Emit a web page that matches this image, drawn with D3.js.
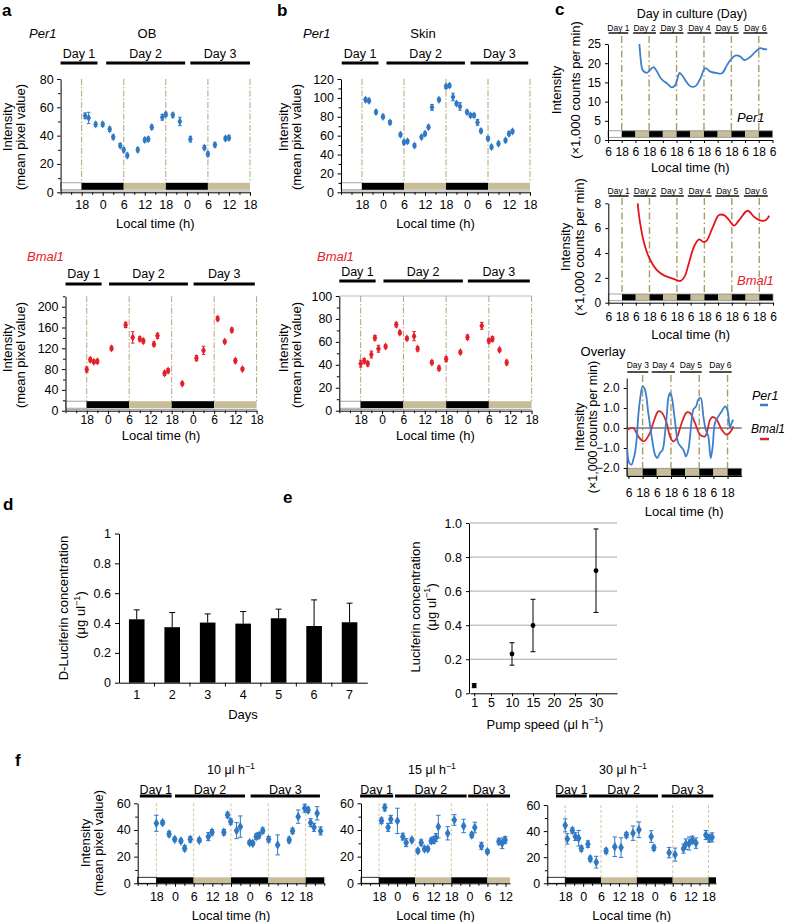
<!DOCTYPE html>
<html><head><meta charset="utf-8">
<script src="https://cdn.jsdelivr.net/npm/d3@7/dist/d3.min.js"></script>
<style>html,body{margin:0;padding:0;background:#fff}svg{display:block}</style>
</head><body>
<svg id="fig" width="786" height="922"></svg>
<script>
// ================= DATA =================
const hourTicks = [18,24,30,36,42,48,54,60,66];
const dashHours = [18,30,42,54,66];
const ldEdges = [12,18,30,42,54,66,78];
const ldPhase = ["light","dark","subj","dark","subj","dark"];
const dayNames3 = ["Day 1","Day 2","Day 3"];

// a: olfactory bulb
const aPer1T = [19,20,22,24,26,27,29,30,31,34,36,37,38,41,42,44,46,49,53,54,56,59,60];
const aPer1V = [54,52.5,48,48,44.5,39,33,30,26,30,37,37.5,46,53,55,54.5,50,37.5,31.5,27,33.5,38,38.5];
const aPer1E = [2,4,1.5,1.5,1.5,1.5,1.5,1.5,1.5,1.5,1.5,1.5,1.5,2,1.5,1.5,3,2,1.5,1.5,1.5,1.5,1.5];
const aPer1Days = [[12,22.5],[25,47.5],[49,66]];

const aBmal1T = [18,19,20,21,25,29,31,33,34,37,38,40,41,45,49,51,55,57,59,60,62];
const aBmal1V = [79,98,94,95,120,165,141,138,134,128,144,72,77,52,101,116,177,133,155,96,80];
const aBmal1E = [5,4,3,4,4,5,11,4,4,4,5,4,4,3,5,8,4,3,4,4,3];
const aBmal1Days = [[12,22.2],[24.3,46.6],[48.2,65.5]];

// b: skin
const bPer1T = [19,20,22,24,26,29,30,31,33,35,36,37,38,40,42,43,44,45,46,48,49,50,51,52,54,55,57,59,60,61];
const bPer1V = [98,97,85,80,74,61,53,54,49.5,58.5,62,69,90,98,112,113,101,94,91,85,81.5,81.5,74,65,57,48,51.5,55,62,64.5];
const bPer1E = [2,2,2,2,2,2,2,2,2,2,2,2,3,2,2,2,4,2,4,2,2,2,3,2,2,2,2,2,2,2];
const bPer1Days = [[12.2,22.7],[25,47.4],[49,65.5]];

const bBmal1T = [18,19,20,21,22,23,25,28,29,31,33,34,38,40,42,46,48,52,54,55,57,59];
const bBmal1V = [41,43.5,41,49,63.5,54,56,75,68,63,65,54,42,37,45,51,64,74,61,62.5,53,42];
const bBmal1E = [3,2,2,3,2,3,1.5,2,1.5,1.5,4,2,1.5,2,2,1.5,2,3,2,2,1.5,2];
const bBmal1Days = [[12,22.2],[24.4,46.7],[48.1,65.5]];

// c: in-culture recordings (hours from 06:00 of day 1)
const cTicks = [0,12,24,36,48,60,72,84,96,108,120,132,144];
const cEdges = [0,12,24,36,48,60,72,84,96,108,120,132,144];
const cPhase = ["light","dark","subj","dark","subj","dark","subj","dark","subj","dark","subj","dark"];
const cDayNames = ["Day 1","Day 2","Day 3","Day 4","Day 5","Day 6"];
const cDayRanges = [[0.5,17.7],[22,42],[45.3,66],[69.5,90.3],[93.5,114.5],[118.5,139.5]];
const cPer1T = [27.5,28.3,29.2,30.4,34,37,39.8,43,45.7,48.5,51.5,55.9,58.8,60.8,62.6,65,67.6,72,76.4,80.8,85.2,89.6,95.4,99.8,104.2,107.1,111.5,115.9,119.4,124.7,129.1,133.5,136,139.3];
const cPer1V = [25,22,19.5,18.2,17.5,18.3,19,17.8,16.3,15.4,14.8,13.7,14.3,16,17.5,16.8,15.6,14,14,16,18.7,17.8,17.4,17.4,19.5,20.8,22,21.7,20.8,21.7,23,23.9,23.7,23.6];
const cBmal1T = [25.7,26.6,28.1,31,34,37.5,42.7,48.6,54.4,60.3,63.2,66.7,70.5,74.9,79.3,83.1,86,91,96.8,101.2,105.6,110,114.4,121.8,127.6,133.5,137.8,140.7];
const cBmal1V = [8,7.2,6.25,4.9,4,3.3,2.6,2.2,2.0,1.8,1.75,2.1,3.2,4.5,5.1,4.9,5,6,7.05,7.05,6.65,6.2,6.65,7.4,6.9,6.6,6.65,7];

// c overlay (hours from 06:00 of day 3)
const oTicks = [0,12,24,36,48,60,72,84];
const oEdges = [-1.5,12,24,36,48,60,72,84,96];
const oPhase = ["subj","dark","subj","dark","subj","dark","subj","dark"];
const oDayNames = ["Day 3","Day 4","Day 5","Day 6"];
const oDayRanges = [[-1,16.8],[19.7,39.4],[43.7,62.1],[68.5,87.5]];
const oPer1T = [-1,0.7,2.7,4.1,5.5,6.9,8.3,9.8,12,14,16.8,18.8,20.5,22.5,24.4,26.7,29,31,32.4,33.8,35.2,36.6,38.6,40.3,42.2,44.3,46.5,48.8,50.8,52.2,53.6,55,57.3,59.2,61.2,63.5,65.5,67.7,69.7,71.4,73.3,76.2,79,81.9,83.8,86.1,87.5,88.9];
const oPer1V = [-1.08,-1.75,-1.83,-1.58,-1.25,-0.58,0.58,1.42,2.08,1.92,0.75,-0.08,-0.75,-1.33,-1.5,-1.25,-1.08,-0.25,0.58,1.5,1.75,1.58,0.75,-0.08,-0.75,-0.92,-1.08,-1.42,-1.08,-0.42,0.42,0.92,1.08,1.42,1.5,0.58,-0.08,-0.42,-1.5,-0.92,0.25,0.58,0.83,1.08,0.92,0,0.25,0.42];
const oBmal1T = [-1,4.1,8.3,13.1,18.2,21,25.3,28.1,32.4,35.2,38,40.9,45.1,49.4,52.2,56.4,60.7,64.9,69.2,71.4,74.8,79,83.3,86.7,88.9];
const oBmal1V = [-0.08,0,-0.42,-0.67,-0.25,0.25,0.83,0.78,0.25,-0.42,-0.67,-0.5,0.25,0.78,0.75,0.25,-0.33,-0.42,0.42,0.55,0.42,-0.08,-0.33,-0.17,0.08];

// d: D-luciferin by day
const dDays = ["1","2","3","4","5","6","7"];
const dValues = [0.425,0.372,0.403,0.396,0.432,0.38,0.405];
const dErrors = [0.063,0.098,0.058,0.081,0.061,0.175,0.128];
const dTicks = [0,0.2,0.4,0.6,0.8,1.0];

// e: luciferin vs pump speed
const eSpeed = [1,10,15,30];
const eValues = [0.045,0.231,0.398,0.72];
const eErrors = [0.012,0.066,0.154,0.245];
const eXTicks = [1,5,10,15,20,25,30];
const eYTicks = [0,0.2,0.4,0.6,0.8,1.0];

// f: pump speeds
const f10T = [18,20,22.1,23.9,25.9,27.1,28.9,31.8,34.7,35.9,39.7,40.9,41.9,43.8,45,48,49,50.1,51,52.2,54.1,57,60.7,61.8,63.6,65.7,66.8,67.6,68.7,69.7,70.8];
const f10V = [45,45.5,37,33,31.8,26.3,33,32.3,35,38.3,38.3,51.3,46.3,39.5,42.5,30.5,30,35,36,39.5,33,28.8,32.5,39.3,50,56.3,55,45.5,42,52.5,39.3];
const f10E = [6,1.5,2,1.5,1.5,2,2,1.5,3,2,2,2,2,6,8,1.5,1.5,2,2,2,2,7.5,2,2,5,3,2,3,3,5,3];
const f10Days = [[12.7,22.9],[24,46.5],[48.3,70.6]];
const f15T = [18.8,19.9,21,21.9,24.1,25.9,27,28.9,30.9,32,33.1,34.2,35.3,36.2,36.9,37.7,40.8,43,46.1,48.8,49.8,52,54,57.8,58.9,59.9];
const f15V = [47,56.8,42,48,46.8,35,30.5,32.5,24.3,30.5,25.8,25.8,31.8,32.5,34.3,42.5,37.5,47.5,43,36.3,41.8,28,23.8,31.3,30,32.5];
const f15E = [2,2.5,3,3,9.5,2.5,3,1.5,1.5,2,1.5,1.5,2,2.5,3,8.5,5,4,5,2,4,2.5,1.5,2,4,2.5];
const f15Days = [[11.7,22.7],[23.3,47.1],[47.6,61.5]];
const f30T = [18,18.7,20.4,21.4,22.5,23.4,25.6,26.4,28.4,31.7,34.6,36.7,38.5,40.7,42.7,46.8,47.7,52.8,54.8,57.6,58.4,59.5,60.6,61.8,65.1,66.2,67.2];
const f30V = [44.4,34,40.5,35.8,34.5,26.6,30,18.8,16.2,24.8,28,27.4,37,38.4,41,35.8,27.2,23.5,22,26.6,30,30.5,33.2,30.8,37,34.5,35.2];
const f30E = [5,4,2,3,6,2,2.5,2,4.5,2,7.5,7.5,2,5.5,6,4.5,2,4,5,3.5,4,5,3,4,3.5,3,3.5];
const f30Days = [[14.9,25.2],[26,49.1],[50.3,67.6]];

// ================= DRAWING =================
const svg = d3.select("#fig");
const FF = '"Liberation Sans", Arial, Helvetica, sans-serif';
svg.attr("font-family", FF);
const BLUE = "#2f78c4", RED = "#e3202a", TAN = "#c7be99";
const ldColor = {light:"#ffffff", dark:"#000000", subj:TAN};

function txt(x, y, s, o = {}) {
  const fs = o.size || 12.5;
  const t = svg.append("text").attr("x", x).attr("y", y).attr("font-size", fs)
    .attr("text-anchor", o.anchor || "middle").attr("fill", o.fill || "#000");
  if (o.italic) t.attr("font-style", "italic");
  if (o.bold) t.attr("font-weight", "bold");
  if (o.rot) t.attr("transform", `rotate(-90,${x},${y})`);
  if (o.sup) {
    t.append("tspan").text(s);
    t.append("tspan").attr("dy", -fs * 0.4).attr("font-size", fs * 0.7).text(o.sup);
    t.append("tspan").attr("dy", fs * 0.4).text(o.after || "");
  } else t.text(s);
  return t;
}
function styleAxis(g, fs) {
  g.attr("font-family", FF).attr("font-size", fs);
  g.selectAll(".domain").attr("stroke", "#000");
  g.selectAll(".tick line").attr("stroke", "#000");
  g.selectAll(".tick text").attr("fill", "#000");
}

function tsPanel(o) {
  const g = svg.append("g");
  const x = d3.scaleLinear().domain(o.tDom).range(o.xr);
  const y = d3.scaleLinear().domain(o.yDom).range(o.yr);
  const yb = o.yr[0], yt = o.yr[1];
  const inDom = h => h >= o.tDom[0] - 1e-6 && h <= o.tDom[1] + 1e-6;
  const barTop = yb - o.barOff - o.barH;
  if (o.topGrid) g.append("line").attr("x1", o.xr[0]).attr("x2", o.xr[1]).attr("y1", yt).attr("y2", yt).attr("stroke", "#bdbdbd");
  dashHours.filter(inDom).forEach(h => {
    g.append("line").attr("x1", x(h)).attr("x2", x(h)).attr("y1", yt).attr("y2", barTop)
      .attr("stroke", o.dashColor).attr("stroke-width", 1).attr("stroke-dasharray", o.dashArray);
  });
  ldPhase.forEach((p, i) => {
    const a = Math.max(ldEdges[i], o.tDom[0]), b = Math.min(ldEdges[i + 1], o.tDom[1]);
    if (b <= a) return;
    g.append("rect").attr("x", x(a)).attr("y", barTop).attr("width", x(b) - x(a)).attr("height", o.barH)
      .attr("fill", ldColor[p]).attr("stroke", p === "light" ? o.lightStroke : "none").attr("stroke-width", 0.8);
  });
  if (o.underLine) g.append("line").attr("x1", o.xr[0]).attr("x2", o.xr[1]).attr("y1", yb - 1.3).attr("y2", yb - 1.3).attr("stroke", "#a0a0a0").attr("stroke-width", 1);
  const xMaj = hourTicks.filter(inDom);
  const xMin = d3.range(o.tDom[0], o.tDom[1] + 0.01, 3).filter(h => !xMaj.includes(h));
  g.append("g").attr("transform", `translate(0,${yb})`)
    .call(d3.axisBottom(x).tickValues(xMin).tickFormat("").tickSize(2.5).tickSizeOuter(0))
    .call(a => a.select(".domain").remove()).call(styleAxis, o.fs);
  g.append("g").attr("transform", `translate(0,${yb})`)
    .call(d3.axisBottom(x).tickValues(xMaj).tickFormat(h => String(h % 24)).tickSize(3.5).tickPadding(o.xPad).tickSizeOuter(0))
    .call(styleAxis, o.xfs || o.fs);
  const yMin = d3.range(o.yDom[0], o.yDom[1] + 0.01, o.yMinor).filter(v => !o.yTicks.includes(v));
  g.append("g").attr("transform", `translate(${o.xr[0]},0)`)
    .call(d3.axisLeft(y).tickValues(yMin).tickFormat("").tickSize(2.5).tickSizeOuter(0))
    .call(a => a.select(".domain").remove()).call(styleAxis, o.fs);
  g.append("g").attr("transform", `translate(${o.xr[0]},0)`)
    .call(d3.axisLeft(y).tickValues(o.yTicks).tickSize(3.5).tickPadding(3.5).tickSizeOuter(0))
    .call(styleAxis, o.fs);
  // error bars + points
  const idx = d3.range(o.t.length);
  const cap = o.cap;
  idx.forEach(i => {
    const xi = x(o.t[i]), lo = y(o.v[i] - o.e[i]), hi = y(o.v[i] + o.e[i]);
    g.append("line").attr("x1", xi).attr("x2", xi).attr("y1", lo).attr("y2", hi).attr("stroke", o.color).attr("stroke-width", 1);
    [lo, hi].forEach(yy => g.append("line").attr("x1", xi - cap).attr("x2", xi + cap).attr("y1", yy).attr("y2", yy).attr("stroke", o.color).attr("stroke-width", 1));
    g.append("path").attr("d", d3.symbol(d3.symbolDiamond, o.symSize)()).attr("transform", `translate(${xi},${y(o.v[i])})`).attr("fill", o.color);
  });
  // day bars
  o.days.forEach((d, i) => {
    g.append("line").attr("x1", x(d[0])).attr("x2", x(d[1])).attr("y1", o.dayBarY).attr("y2", o.dayBarY).attr("stroke", "#000").attr("stroke-width", 3);
    txt(x((d[0] + d[1]) / 2), o.dayLabelY, dayNames3[i], {size: o.fs});
  });
  txt((o.xr[0] + o.xr[1]) / 2, o.xTitleY, "Local time (h)", {size: 13});
}

// ---------- panel a ----------
txt(2, 16, "a", {size: 17, bold: true, anchor: "start"});
txt(29, 38, "Per1", {size: 13, italic: true, anchor: "start"});
txt(147, 38, "OB", {size: 13});
txt(11.5, 127, "Intensity", {size: 13, rot: true});
txt(25, 137, "(mean pixel value)", {size: 13, rot: true});
const abStyle = {barH: 7, barOff: 2.5, underLine: true, lightStroke: "#909090", dashColor: "#b0a37a", dashArray: "6,2,1.5,2", fs: 12.5, cap: 1.8, symSize: 20};
tsPanel(Object.assign({}, abStyle, {xr: [60.6, 250], tDom: [12, 66], yr: [192.3, 79], yDom: [0, 80], yTicks: [0,20,40,60,80], yMinor: 10,
  t: aPer1T, v: aPer1V, e: aPer1E, color: BLUE, days: aPer1Days, dayBarY: 63, dayLabelY: 57.5, xPad: 4, xTitleY: 228}));
txt(27, 261, "Bmal1", {size: 13, italic: true, anchor: "start", fill: RED});
txt(11.5, 348, "Intensity", {size: 13, rot: true});
txt(25, 355, "(mean pixel value)", {size: 13, rot: true});
tsPanel(Object.assign({}, abStyle, {xr: [65.5, 256.6], tDom: [12, 66], yr: [410.7, 296.3], yDom: [0, 220], yTicks: [0,40,80,120,160,200], yMinor: 20,
  t: aBmal1T, v: aBmal1V, e: aBmal1E, color: RED, days: aBmal1Days, dayBarY: 284, dayLabelY: 277.5, xPad: 1.5, xfs: 12, xTitleY: 440}));

// ---------- panel b ----------
txt(277, 16, "b", {size: 17, bold: true, anchor: "start"});
txt(303, 38, "Per1", {size: 13, italic: true, anchor: "start"});
txt(423, 38, "Skin", {size: 13});
txt(287.5, 127, "Intensity", {size: 13, rot: true});
txt(301, 137, "(mean pixel value)", {size: 13, rot: true});
tsPanel(Object.assign({}, abStyle, {xr: [341, 530], tDom: [12, 66], yr: [192.3, 79], yDom: [0, 120], yTicks: [0,20,40,60,80,100,120], yMinor: 10,
  t: bPer1T, v: bPer1V, e: bPer1E, color: BLUE, days: bPer1Days, dayBarY: 63, dayLabelY: 57.5, xPad: 4, xTitleY: 228}));
txt(317, 261, "Bmal1", {size: 13, italic: true, anchor: "start", fill: RED});
txt(287.5, 348, "Intensity", {size: 13, rot: true});
txt(301, 355, "(mean pixel value)", {size: 13, rot: true});
tsPanel(Object.assign({}, abStyle, {xr: [339.3, 531.6], tDom: [12, 66], yr: [410.7, 296], yDom: [0, 100], yTicks: [0,20,40,60,80,100], yMinor: 10, topGrid: true,
  t: bBmal1T, v: bBmal1V, e: bBmal1E, color: RED, days: bBmal1Days, dayBarY: 281, dayLabelY: 275.5, xPad: 1.5, xfs: 12, xTitleY: 440}));

// ---------- panel c ----------
function cPanel(o) {
  const g = svg.append("g");
  const x = d3.scaleLinear().domain(o.tDom).range(o.xr);
  const y = d3.scaleLinear().domain(o.yDom).range(o.yr);
  o.ticks.filter(h => ((h + 6) % 24) === 18).forEach(h => {
    g.append("line").attr("x1", x(h)).attr("x2", x(h)).attr("y1", o.dashTop).attr("y2", o.barTop)
      .attr("stroke", "#a89c62").attr("stroke-width", 1.4).attr("stroke-dasharray", "7,3,1.5,3");
  });
  o.phase.forEach((p, i) => {
    const a = Math.max(o.edges[i], o.tDom[0]), b = Math.min(o.edges[i + 1], o.tDom[1]);
    if (b <= a) return;
    g.append("rect").attr("x", x(a)).attr("y", o.barTop).attr("width", x(b) - x(a)).attr("height", o.barH).attr("fill", ldColor[p]);
  });
  g.append("rect").attr("x", o.xr[0]).attr("y", o.barTop).attr("width", o.xr[1] - o.xr[0]).attr("height", o.barH)
    .attr("fill", "none").attr("stroke", "#8a8a8a").attr("stroke-width", 0.8);
  if (o.zeroLine) g.append("line").attr("x1", o.xr[0]).attr("x2", o.xr[1]).attr("y1", y(0)).attr("y2", y(0)).attr("stroke", "#333").attr("stroke-width", 1);
  g.append("g").attr("transform", `translate(0,${o.xAxisY})`)
    .call(d3.axisBottom(x).tickValues(o.ticks).tickFormat(h => String((h + 6) % 24)).tickSize(3).tickPadding(o.xPad).tickSizeOuter(0))
    .call(styleAxis, 12);
  g.append("g").attr("transform", `translate(${o.xr[0]},0)`)
    .call(d3.axisLeft(y).tickValues(o.yTicks).tickSize(3).tickPadding(4).tickSizeOuter(0))
    .call(styleAxis, 12);
  o.dayRanges.forEach((d, i) => {
    g.append("line").attr("x1", x(d[0])).attr("x2", x(d[1])).attr("y1", o.dayBarY).attr("y2", o.dayBarY).attr("stroke", "#222").attr("stroke-width", 1.6);
    txt(x((d[0] + d[1]) / 2), o.dayLabelY, o.dayNames[i], {size: 8.5});
  });
  o.curves.forEach(c => {
    const line = d3.line().x(i => x(c.t[i])).y(i => y(c.v[i])).curve(d3.curveCatmullRom.alpha(0.5));
    g.append("path").attr("d", line(d3.range(c.t.length))).attr("fill", "none").attr("stroke", c.color).attr("stroke-width", 1.8);
  });
  txt((o.xr[0] + o.xr[1]) / 2, o.xTitleY, "Local time (h)", {size: 13});
}

txt(555, 15, "c", {size: 17, bold: true, anchor: "start"});
txt(692, 17.5, "Day in culture (Day)", {size: 12.5});
txt(561, 90, "Intensity", {size: 13, rot: true});
txt(579.5, 90, "(×1,000  counts per min)", {size: 13, rot: true});
cPanel({xr: [608, 772.5], tDom: [0, 144], yr: [140, 44], yDom: [0, 25], yTicks: [0,5,10,15,20,25], ticks: cTicks,
  edges: cEdges, phase: cPhase, barTop: 130.8, barH: 6.5, dashTop: 36, xAxisY: 140, xPad: 4,
  dayRanges: cDayRanges, dayNames: cDayNames, dayBarY: 33, dayLabelY: 31,
  curves: [{t: cPer1T, v: cPer1V, color: "#3d7fca"}], xTitleY: 171.5});
txt(737, 121.5, "Per1", {size: 13, italic: true, anchor: "start"});

txt(570, 247, "Intensity", {size: 13, rot: true});
txt(583.5, 247, "(×1,000  counts per min)", {size: 13, rot: true});
cPanel({xr: [608.3, 773], tDom: [0, 144], yr: [302.7, 203.3], yDom: [0, 8], yTicks: [0,2,4,6,8], ticks: cTicks,
  edges: cEdges, phase: cPhase, barTop: 294, barH: 6.7, dashTop: 198, xAxisY: 302.7, xPad: 6.5,
  dayRanges: cDayRanges, dayNames: cDayNames, dayBarY: 196, dayLabelY: 193.7,
  curves: [{t: cBmal1T, v: cBmal1V, color: "#e8121c"}], xTitleY: 338.5});
txt(737, 285, "Bmal1", {size: 13, italic: true, anchor: "start", fill: RED});

txt(603, 355.5, "Overlay", {size: 13});
txt(584, 427, "Intensity", {size: 13, rot: true});
txt(597, 427, "(×1,000  counts per min)", {size: 12.5, rot: true});
cPanel({xr: [626.7, 741.7], tDom: [-1.5, 96], yr: [476, 378], yDom: [-2.4, 2.5], yTicks: [-2,-1,0,1,2], ticks: oTicks,
  edges: oEdges, phase: oPhase, barTop: 468.3, barH: 7.7, dashTop: 375, xAxisY: 476, xPad: 9, zeroLine: true,
  dayRanges: oDayRanges, dayNames: oDayNames, dayBarY: 372, dayLabelY: 368,
  curves: [{t: oBmal1T, v: oBmal1V, color: "#d9262c"}, {t: oPer1T, v: oPer1V, color: "#3d7fca"}], xTitleY: 516});
txt(752, 399.5, "Per1", {size: 12.5, italic: true, anchor: "start"});
svg.append("line").attr("x1", 760).attr("x2", 768).attr("y1", 405).attr("y2", 405).attr("stroke", "#3d7fca").attr("stroke-width", 2.5);
txt(751, 432.5, "Bmal1", {size: 12, italic: true, anchor: "start"});
svg.append("line").attr("x1", 760).attr("x2", 769).attr("y1", 439).attr("y2", 439).attr("stroke", "#d9262c").attr("stroke-width", 2.5);

// ---------- panel d ----------
txt(3, 510, "d", {size: 17, bold: true, anchor: "start"});
{
  const g = svg.append("g");
  const x = d3.scaleBand().domain(dDays).range([119, 367.3]).paddingInner(0.56).paddingOuter(0.28);
  const y = d3.scaleLinear().domain([0, 1]).range([682.7, 533.5]);
  dDays.forEach((d, i) => {
    const cx = x(d) + x.bandwidth() / 2;
    g.append("rect").attr("x", x(d)).attr("y", y(dValues[i])).attr("width", x.bandwidth()).attr("height", y(0) - y(dValues[i])).attr("fill", "#000");
    g.append("line").attr("x1", cx).attr("x2", cx).attr("y1", y(dValues[i])).attr("y2", y(dValues[i] + dErrors[i])).attr("stroke", "#000").attr("stroke-width", 1);
    g.append("line").attr("x1", cx - 3).attr("x2", cx + 3).attr("y1", y(dValues[i] + dErrors[i])).attr("y2", y(dValues[i] + dErrors[i])).attr("stroke", "#000").attr("stroke-width", 1);
  });
  g.append("g").attr("transform", "translate(0,682.7)")
    .call(d3.axisBottom(x).tickSize(0).tickPadding(7.5).tickSizeOuter(0)).call(styleAxis, 12.5);
  d3.range(1, dDays.length).forEach(k => {
    const bx = x(dDays[k]) - x.step() * x.paddingInner() / 2;
    g.append("line").attr("x1", bx).attr("x2", bx).attr("y1", 682.7).attr("y2", 686.5).attr("stroke", "#000");
  });
  g.append("g").attr("transform", "translate(119,0)")
    .call(d3.axisLeft(y).tickValues(dTicks).tickFormat(v => v === 0 ? "0" : v === 1 ? "1" : v.toFixed(1)).tickSize(4).tickPadding(4).tickSizeOuter(0))
    .call(styleAxis, 12.5);
  txt(243, 718.5, "Days", {size: 13});
  txt(67.5, 608, "D-Luciferin concentration", {size: 13, rot: true});
  txt(85, 615, "(μg ul", {size: 13, rot: true, sup: "−1", after: ")"});
}

// ---------- panel e ----------
txt(283, 503, "e", {size: 17, bold: true, anchor: "start"});
{
  const g = svg.append("g");
  const x = d3.scaleLinear().domain([0, 35]).range([470, 617]);
  const y = d3.scaleLinear().domain([0, 1]).range([693.3, 523]);
  eYTicks.filter(v => v > 0).forEach(v => g.append("line").attr("x1", 470).attr("x2", 617).attr("y1", y(v)).attr("y2", y(v)).attr("stroke", "#a9a9a9").attr("stroke-width", 1));
  g.append("g").attr("transform", "translate(0,693.3)")
    .call(d3.axisBottom(x).tickValues(eXTicks).tickSize(3).tickPadding(1.5).tickSizeOuter(0)).call(styleAxis, 12.5);
  g.append("g").attr("transform", "translate(469,0)")
    .call(d3.axisLeft(y).tickValues(eYTicks).tickFormat(d3.format(".1f")).tickSize(3).tickPadding(4).tickSizeOuter(0))
    .call(a => a.selectAll(".tick text").filter(v => v === 0).text("0"))
    .call(styleAxis, 12.5);
  eSpeed.forEach((s, i) => {
    const cx = x(s), lo = y(eValues[i] - eErrors[i]), hi = y(eValues[i] + eErrors[i]);
    g.append("line").attr("x1", cx).attr("x2", cx).attr("y1", lo).attr("y2", hi).attr("stroke", "#000");
    [lo, hi].forEach(yy => g.append("line").attr("x1", cx - 2.5).attr("x2", cx + 2.5).attr("y1", yy).attr("y2", yy).attr("stroke", "#000"));
    g.append("circle").attr("cx", cx).attr("cy", y(eValues[i])).attr("r", 2.4).attr("fill", "#000");
  });
  txt(545, 728.5, "Pump speed (μl h", {size: 13, sup: "−1", after: ")"});
  txt(420, 607, "Luciferin concentration", {size: 13, rot: true});
  txt(435.5, 607, "(μg ul", {size: 13, rot: true, sup: "−1", after: ")"});
}

// ---------- panel f ----------
txt(15, 766, "f", {size: 17, bold: true, anchor: "start"});
txt(89.5, 843, "Intensity", {size: 13, rot: true});
txt(103, 843, "(mean pixel value)", {size: 13, rot: true});
const fStyle = {barH: 6, barOff: 0, underLine: false, lightStroke: "#000", dashColor: "#d6c69d", dashArray: "3,2", fs: 12.5, cap: 2.2, symSize: 28,
  yDom: [0, 60], yTicks: [0,20,40,60], yMinor: 10, color: BLUE, dayBarY: 796, dayLabelY: 793.5, xPad: 5, xTitleY: 919.5};
tsPanel(Object.assign({}, fStyle, {xr: [137.7, 324.3], tDom: [12, 72], yr: [883.3, 803.3], t: f10T, v: f10V, e: f10E, days: f10Days}));
txt(231, 774, "10 μl h", {size: 12.5, sup: "−1"});
tsPanel(Object.assign({}, fStyle, {xr: [361, 510], tDom: [12, 61.5], yr: [883.3, 803.3], t: f15T, v: f15V, e: f15E, days: f15Days}));
txt(432, 774, "15 μl h", {size: 12.5, sup: "−1"});
tsPanel(Object.assign({}, fStyle, {xr: [547.3, 716], tDom: [12, 68.5], yr: [883.3, 805], t: f30T, v: f30V, e: f30E, days: f30Days}));
txt(623, 774, "30 μl h", {size: 12.5, sup: "−1"});
</script>
</body></html>
